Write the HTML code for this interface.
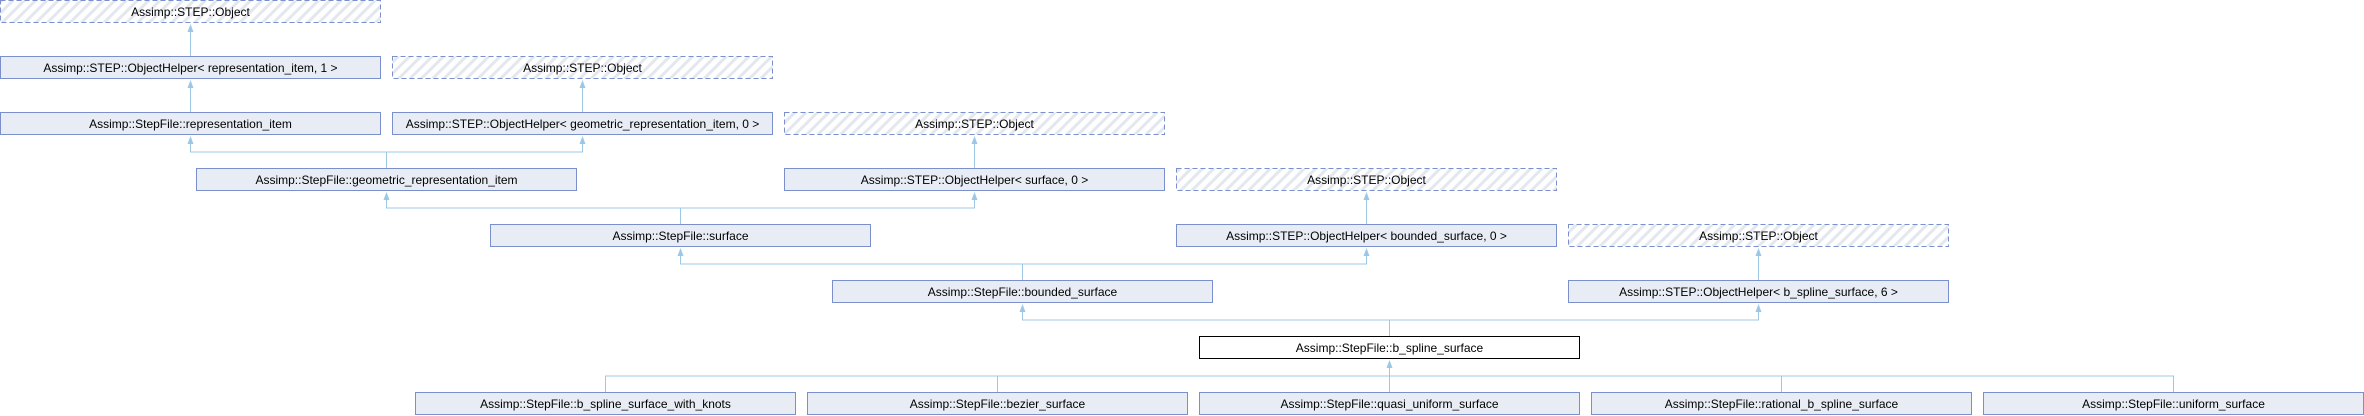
<!DOCTYPE html>
<html><head><meta charset="utf-8"><style>
html,body{margin:0;padding:0;background:#fff;}
svg{display:block;}
text{font-family:"Liberation Sans",sans-serif;font-size:12px;fill:#000;}
</style></head><body>
<svg width="2364" height="416" xmlns="http://www.w3.org/2000/svg">
<defs>
<pattern id="h" width="8" height="8" patternUnits="userSpaceOnUse" patternTransform="rotate(45)">
<rect width="8" height="8" fill="#fff"/><rect width="3" height="8" fill="#e3e7f0"/>
</pattern>
</defs>
<g stroke="#9cc8e6" stroke-width="1" fill="none">
<line x1="190.5" y1="56" x2="190.5" y2="26"/>
<line x1="190.5" y1="112" x2="190.5" y2="82"/>
<line x1="582.5" y1="112" x2="582.5" y2="82"/>
<polyline points="386.5,168 386.5,152 190.5,152 190.5,138"/>
<polyline points="386.5,152 582.5,152 582.5,138"/>
<line x1="974.5" y1="168" x2="974.5" y2="138"/>
<polyline points="680.5,224 680.5,208 386.5,208 386.5,194"/>
<polyline points="680.5,208 974.5,208 974.5,194"/>
<line x1="1366.5" y1="224" x2="1366.5" y2="194"/>
<polyline points="1022.5,280 1022.5,264 680.5,264 680.5,250"/>
<polyline points="1022.5,264 1366.5,264 1366.5,250"/>
<line x1="1758.5" y1="280" x2="1758.5" y2="250"/>
<polyline points="1389.5,336 1389.5,320 1022.5,320 1022.5,306"/>
<polyline points="1389.5,320 1758.5,320 1758.5,306"/>
<polyline points="605.5,392 605.5,376 2173.5,376 2173.5,392"/>
<line x1="997.5" y1="376" x2="997.5" y2="392"/>
<line x1="1781.5" y1="376" x2="1781.5" y2="392"/>
<line x1="1389.5" y1="392" x2="1389.5" y2="362"/>
</g>
<g fill="#9cc8e6">
<path d="M187.5,32 L193.5,32 L190.5,24 Z"/>
<path d="M187.5,88 L193.5,88 L190.5,80 Z"/>
<path d="M579.5,88 L585.5,88 L582.5,80 Z"/>
<path d="M187.5,144 L193.5,144 L190.5,136 Z"/>
<path d="M579.5,144 L585.5,144 L582.5,136 Z"/>
<path d="M971.5,144 L977.5,144 L974.5,136 Z"/>
<path d="M383.5,200 L389.5,200 L386.5,192 Z"/>
<path d="M971.5,200 L977.5,200 L974.5,192 Z"/>
<path d="M1363.5,200 L1369.5,200 L1366.5,192 Z"/>
<path d="M677.5,256 L683.5,256 L680.5,248 Z"/>
<path d="M1363.5,256 L1369.5,256 L1366.5,248 Z"/>
<path d="M1755.5,256 L1761.5,256 L1758.5,248 Z"/>
<path d="M1019.5,312 L1025.5,312 L1022.5,304 Z"/>
<path d="M1755.5,312 L1761.5,312 L1758.5,304 Z"/>
<path d="M1386.5,368 L1392.5,368 L1389.5,360 Z"/>
</g>
<g stroke="#7b8fcc" stroke-width="1">
<!-- dashed objects -->
<rect x="0.5" y="0.5" width="380" height="22" fill="url(#h)" stroke-dasharray="5,3"/>
<rect x="392.5" y="56.5" width="380" height="22" fill="url(#h)" stroke-dasharray="5,3"/>
<rect x="784.5" y="112.5" width="380" height="22" fill="url(#h)" stroke-dasharray="5,3"/>
<rect x="1176.5" y="168.5" width="380" height="22" fill="url(#h)" stroke-dasharray="5,3"/>
<rect x="1568.5" y="224.5" width="380" height="22" fill="url(#h)" stroke-dasharray="5,3"/>
<g fill="#e8ecf5">
<rect x="0.5" y="56.5" width="380" height="22"/>
<rect x="0.5" y="112.5" width="380" height="22"/>
<rect x="392.5" y="112.5" width="380" height="22"/>
<rect x="196.5" y="168.5" width="380" height="22"/>
<rect x="784.5" y="168.5" width="380" height="22"/>
<rect x="490.5" y="224.5" width="380" height="22"/>
<rect x="1176.5" y="224.5" width="380" height="22"/>
<rect x="832.5" y="280.5" width="380" height="22"/>
<rect x="1568.5" y="280.5" width="380" height="22"/>
<rect x="415.5" y="392.5" width="380" height="22"/>
<rect x="807.5" y="392.5" width="380" height="22"/>
<rect x="1199.5" y="392.5" width="380" height="22"/>
<rect x="1591.5" y="392.5" width="380" height="22"/>
<rect x="1983.5" y="392.5" width="380" height="22"/>
</g>
</g>
<rect x="1199.5" y="336.5" width="380" height="22" fill="#fff" stroke="#000"/>
<g text-anchor="middle">
<text x="190.5" y="16">Assimp::STEP::Object</text>
<text x="190.5" y="72">Assimp::STEP::ObjectHelper&lt; representation_item, 1 &gt;</text>
<text x="582.5" y="72">Assimp::STEP::Object</text>
<text x="190.5" y="128">Assimp::StepFile::representation_item</text>
<text x="582.5" y="128">Assimp::STEP::ObjectHelper&lt; geometric_representation_item, 0 &gt;</text>
<text x="974.5" y="128">Assimp::STEP::Object</text>
<text x="386.5" y="184">Assimp::StepFile::geometric_representation_item</text>
<text x="974.5" y="184">Assimp::STEP::ObjectHelper&lt; surface, 0 &gt;</text>
<text x="1366.5" y="184">Assimp::STEP::Object</text>
<text x="680.5" y="240">Assimp::StepFile::surface</text>
<text x="1366.5" y="240">Assimp::STEP::ObjectHelper&lt; bounded_surface, 0 &gt;</text>
<text x="1758.5" y="240">Assimp::STEP::Object</text>
<text x="1022.5" y="296">Assimp::StepFile::bounded_surface</text>
<text x="1758.5" y="296">Assimp::STEP::ObjectHelper&lt; b_spline_surface, 6 &gt;</text>
<text x="1389.5" y="352">Assimp::StepFile::b_spline_surface</text>
<text x="605.5" y="408">Assimp::StepFile::b_spline_surface_with_knots</text>
<text x="997.5" y="408">Assimp::StepFile::bezier_surface</text>
<text x="1389.5" y="408">Assimp::StepFile::quasi_uniform_surface</text>
<text x="1781.5" y="408">Assimp::StepFile::rational_b_spline_surface</text>
<text x="2173.5" y="408">Assimp::StepFile::uniform_surface</text>
</g>
</svg>
</body></html>
